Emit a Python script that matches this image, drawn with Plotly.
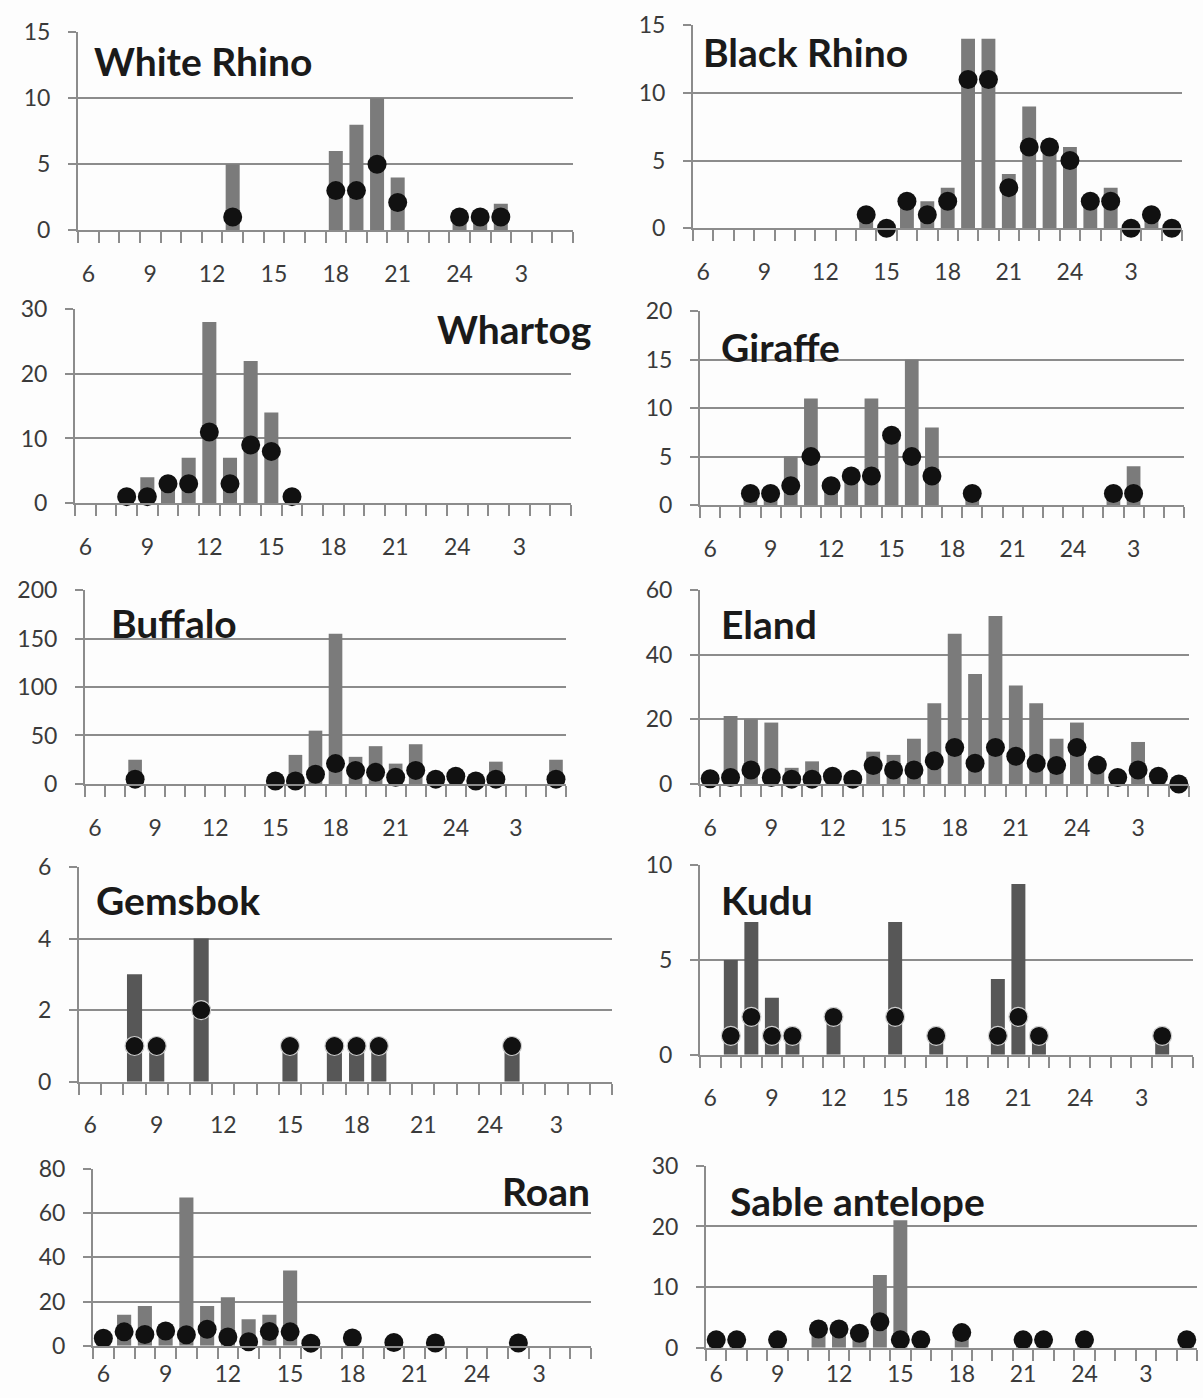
import plotly.graph_objects as go

# ---------------- data ----------------
HOURS = [6, 7, 8, 9, 10, 11, 12, 13, 14, 15, 16, 17, 18, 19, 20, 21, 22, 23, 24, 1, 2, 3, 4, 5]
TICK_HOURS = [6, 9, 12, 15, 18, 21, 24, 3]
N = None

white_rhino_bars = [N, N, N, N, N, N, N, 5, N, N, N, N, 6, 8, 10, 4, N, N, 1, 1, 2, N, N, N]
white_rhino_dots = [N, N, N, N, N, N, N, 1, N, N, N, N, 3, 3, 5, 2.1, N, N, 1, 1, 1, N, N, N]

black_rhino_bars = [N, N, N, N, N, N, N, N, 1, 0, 2, 2, 3, 14, 14, 4, 9, 6, 6, 2, 3, 0, 1, 0]
black_rhino_dots = [N, N, N, N, N, N, N, N, 1, 0, 2, 1, 2, 11, 11, 3, 6, 6, 5, 2, 2, 0, 1, 0]

whartog_bars = [N, N, 1, 4, 3, 7, 28, 7, 22, 14, 1, N, N, N, N, N, N, N, N, N, N, N, N, N]
whartog_dots = [N, N, 1, 1, 3, 3, 11, 3, 9, 8, 1, N, N, N, N, N, N, N, N, N, N, N, N, N]

giraffe_bars = [N, N, 1, 1, 5, 11, 2, 3, 11, 7, 15, 8, N, 1, N, N, N, N, N, N, 1, 4, N, N]
giraffe_dots = [N, N, 1.2, 1.2, 2, 5, 2, 3, 3, 7.2, 5, 3, N, 1.2, N, N, N, N, N, N, 1.2, 1.2, N, N]

buffalo_bars = [N, N, 25, N, N, N, N, N, N, 2, 30, 55, 155, 28, 39, 21, 41, 5, 7, 4, 23, N, N, 25]
buffalo_dots = [N, N, 5, N, N, N, N, N, N, 3, 3, 10, 21, 14, 12, 7, 14, 5, 8, 3, 5, N, N, 5]

eland_bars = [2, 21, 20, 19, 5, 7, 2, 2, 10, 9, 14, 25, 46.5, 34, 52, 30.5, 25, 14, 19, 5, 2, 13, 2, 0]
eland_dots = [1.6, 2, 4.3, 2, 1.5, 1.5, 2.4, 1.5, 5.7, 4.3, 4.3, 7.2, 11.3, 6.4, 11.3, 8.6, 6.4, 5.7, 11.3, 5.9, 2, 4.3, 2.4, 0]

gemsbok_bars = [N, N, 3, 1, N, 4, N, N, N, 1, N, 1, 1, 1, N, N, N, N, N, 1, N, N, N, N]
gemsbok_dots = [N, N, 1, 1, N, 2, N, N, N, 1, N, 1, 1, 1, N, N, N, N, N, 1, N, N, N, N]

kudu_bars = [N, 5, 7, 3, 1, N, 2, N, N, 7, N, 1, N, N, 4, 9, 1, N, N, N, N, N, 1, N]
kudu_dots = [N, 1, 2, 1, 1, N, 2, N, N, 2, N, 1, N, N, 1, 2, 1, N, N, N, N, N, 1, N]

roan_bars = [3, 14, 18, 6, 67, 18, 22, 12, 14, 34, 1, N, 3, N, 1, N, 1, N, N, N, 1, N, N, N]
roan_dots = [3.4, 6.3, 5.1, 6.7, 5, 7.5, 4, 1.8, 6.5, 6.3, 1.2, N, 3.5, N, 1.5, N, 1.3, N, N, N, 1.3, N, N, N]

sable_bars = [1, 1, N, 1, N, 3, 3, 2.5, 12, 21, 1, N, 2.5, N, N, 1, 1, N, 1, N, N, N, N, 1]
sable_dots = [1.3, 1.3, N, 1.3, N, 3.1, 3.1, 2.4, 4.3, 1.3, 1.3, N, 2.5, N, N, 1.3, 1.3, N, 1.3, N, N, N, N, 1.3]

SPECIES = ["White Rhino", "Black Rhino", "Whartog", "Giraffe", "Buffalo",
           "Eland", "Gemsbok", "Kudu", "Roan", "Sable antelope"]
BARS = [white_rhino_bars, black_rhino_bars, whartog_bars, giraffe_bars, buffalo_bars,
        eland_bars, gemsbok_bars, kudu_bars, roan_bars, sable_bars]
DOTS = [white_rhino_dots, black_rhino_dots, whartog_dots, giraffe_dots, buffalo_dots,
        eland_dots, gemsbok_dots, kudu_dots, roan_dots, sable_dots]
Y_MAX = [15, 15, 30, 20, 200, 60, 6, 10, 80, 30]
Y_STEP = [5, 5, 10, 5, 50, 20, 2, 5, 20, 10]

# ---------------- layout (pixels) ----------------
W, H = 1203, 1398
# plot area: x_left, x_right, y_top, y_bottom
AREAS = [
    (78, 573, 17.6, 219.6),
    (693, 1182, 10.5, 217.6),
    (75, 571, 300.2, 498.1),
    (700, 1184, 302.2, 500.1),
    (85, 566, 586.8, 784.7),
    (700, 1189, 586.8, 784.7),
    (79, 612, 869.3, 1088.6),
    (700, 1193, 867.3, 1061.1),
    (93, 591, 1177.4, 1358.0),
    (706, 1197, 1174.3, 1360.0),
]
# distance of x tick labels from the axis
X_LABEL_PAD = [11, 11, 11, 11, 11, 11, 11, 11, -4, -6]
# title: x, y_center, anchor
TITLES = [
    (92, 47.2, "left"),
    (701, 38.1, "left"),
    (593, 320.6, "right"),
    (719, 338.9, "left"),
    (109, 620.5, "left"),
    (719, 621.5, "left"),
    (94, 903.0, "left"),
    (719, 903.0, "left"),
    (592, 1199.8, "right"),
    (728, 1210.0, "left"),
]
BAR_COLORS = ["#7b7b7b"] * 6 + ["#575757", "#575757"] + ["#7b7b7b"] * 2
DOT_LINE = [0, 0, 0, 0, 0, 0, 1, 1, 0, 0]

GRID = "#8c8c8c"
FONT = "Lato"

fig = go.Figure()
x_idx = list(range(len(HOURS)))
tick_idx = [HOURS.index(h) for h in TICK_HOURS]
bounds = [i - 0.5 for i in range(len(HOURS) + 1)]

layout = dict(width=W, height=H, margin=dict(l=0, r=0, t=0, b=0),
              paper_bgcolor="#fdfdfd", plot_bgcolor="#fdfdfd",
              showlegend=False, annotations=[])

for k, name in enumerate(SPECIES):
    xa = "x" if k == 0 else f"x{k+1}"
    ya = "y" if k == 0 else f"y{k+1}"
    fig.add_trace(go.Bar(x=x_idx, y=BARS[k], xaxis=xa, yaxis=ya,
                         marker=dict(color=BAR_COLORS[k], line=dict(width=0)),
                         width=0.68))
    fig.add_trace(go.Scatter(x=x_idx, y=DOTS[k], xaxis=xa, yaxis=ya, mode="markers",
                             cliponaxis=False,
                             marker=dict(size=19, color="#111111",
                                         line=dict(width=1.2 * DOT_LINE[k], color="#cfcfcf"))))
    xl, xr, yt, yb = AREAS[k]
    xkey = "xaxis" if k == 0 else f"xaxis{k+1}"
    ykey = "yaxis" if k == 0 else f"yaxis{k+1}"
    layout[xkey] = dict(
        domain=[xl / W, xr / W], anchor=ya, range=[-0.5, len(HOURS) - 0.5],
        tickmode="array", tickvals=tick_idx, ticktext=[str(h) for h in TICK_HOURS],
        ticks="outside", ticklen=11, tickcolor="rgba(0,0,0,0)",
        ticklabelstandoff=X_LABEL_PAD[k],
        tickfont=dict(family=FONT, size=23, color="#3a3a3a"),
        showline=True, linecolor=GRID, linewidth=2, showgrid=False, zeroline=False,
        minor=dict(tickmode="array", tickvals=bounds, ticks="outside", ticklen=11,
                   tickcolor=GRID, tickwidth=2, showgrid=False),
        fixedrange=True,
    )
    layout[ykey] = dict(
        domain=[1 - yb / H, 1 - yt / H], anchor=xa, range=[0, Y_MAX[k]],
        tickmode="linear", tick0=0, dtick=Y_STEP[k],
        ticks="outside", ticklen=8, tickcolor=GRID, tickwidth=2, ticklabelstandoff=13,
        tickfont=dict(family=FONT, size=23, color="#3a3a3a"),
        showline=True, linecolor=GRID, linewidth=2,
        showgrid=True, gridcolor=GRID, gridwidth=2, zeroline=False,
        fixedrange=True,
    )
    tx, ty, anc = TITLES[k]
    layout["annotations"].append(dict(
        text=f"<b>{name}</b>", xref="paper", yref="paper", x=tx / W, y=1 - ty / H,
        xanchor=anc, yanchor="middle", showarrow=False,
        font=dict(family=FONT, size=39, color="#1a1a1a")))

fig.update_layout(**layout)
fig.write_html(
    "out.html",
    config={"displayModeBar": False, "staticPlot": True},
    post_script=("document.documentElement.style.margin='0';"
                 "document.body.style.margin='0';document.body.style.padding='0';"
                 "document.documentElement.style.overflow='hidden';"
                 "document.body.style.overflow='hidden';"
                 "var d=document.getElementById('{plot_id}');"
                 "d.style.position='absolute';d.style.top='0px';d.style.left='0px';"
                 "document.body.style.height='1398px';"),
)
